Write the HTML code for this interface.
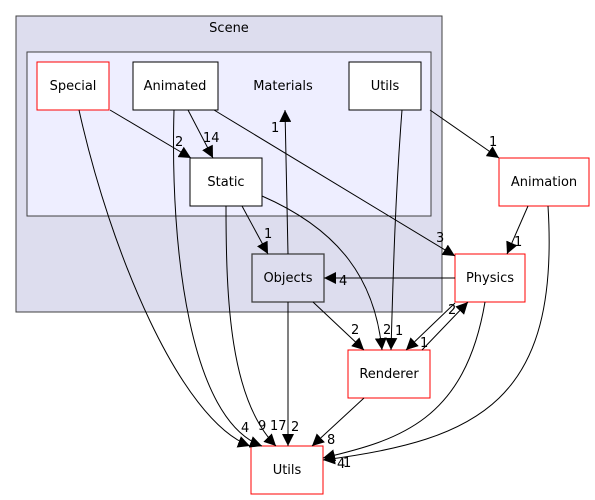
<!DOCTYPE html>
<html><head><meta charset="utf-8"><style>
html,body{margin:0;padding:0;background:#fff;width:595px;height:500px;overflow:hidden}
text{font-family:"DejaVu Sans","Liberation Sans",sans-serif;font-size:13px;fill:#000}
.l{font-size:13px}
</style></head><body>
<svg width="595" height="500" viewBox="0 0 595 500" xmlns="http://www.w3.org/2000/svg">
<defs><marker id="a" viewBox="0 0 10 10" refX="10" refY="5" markerWidth="12" markerHeight="12" markerUnits="userSpaceOnUse" orient="auto"><path d="M0,0 L10,5 L0,10 z" fill="#000"/></marker></defs>
<rect x="16" y="16" width="426" height="296" fill="#ddddee" stroke="#404040" stroke-width="1"/>
<text x="229" y="32" text-anchor="middle">Scene</text>
<rect x="27" y="52" width="404" height="164" fill="#eeeeff" stroke="#404040"/>
<rect x="37" y="62" width="72" height="48" fill="#fff" stroke="red"/>
<text x="73" y="90" text-anchor="middle">Special</text>
<rect x="133" y="62" width="85" height="48" fill="#fff" stroke="#000"/>
<text x="175" y="90" text-anchor="middle">Animated</text>
<text x="283" y="90" text-anchor="middle">Materials</text>
<rect x="349" y="62" width="72" height="48" fill="#fff" stroke="#000"/>
<text x="385" y="90" text-anchor="middle">Utils</text>
<rect x="190" y="158" width="72" height="48" fill="#fff" stroke="#000"/>
<text x="226" y="186" text-anchor="middle">Static</text>
<rect x="252" y="254" width="72" height="48" fill="#ddddee" stroke="#404040" stroke-width="1.3"/>
<text x="288" y="282" text-anchor="middle">Objects</text>
<rect x="455" y="254" width="70" height="48" fill="#fff" stroke="red"/>
<text x="490" y="282" text-anchor="middle">Physics</text>
<rect x="499" y="158" width="90" height="48" fill="#fff" stroke="red"/>
<text x="544" y="186" text-anchor="middle">Animation</text>
<rect x="348" y="350" width="82" height="48" fill="#fff" stroke="red"/>
<text x="389" y="378" text-anchor="middle">Renderer</text>
<rect x="251" y="446" width="72" height="48" fill="#fff" stroke="red"/>
<text x="287" y="474" text-anchor="middle">Utils</text>
<g fill="none" stroke="#000" stroke-width="1" marker-end="url(#a)">
<path d="M110,110 L191,158"/>
<path d="M188,110 L213,158"/>
<path d="M214,110 L455,256"/>
<path d="M288,254 L285,110"/>
<path d="M242,206 L268,254"/>
<path d="M262,196 C340,230 375,280 382,350"/>
<path d="M402,110 C395,200 393,280 391,350"/>
<path d="M430,110 L499,158"/>
<path d="M528,206 L507,254"/>
<path d="M455,278 L324,278"/>
<path d="M313,302 L364,350"/>
<path d="M455,303 L406,350"/>
<path d="M422,350 L468,302"/>
<path d="M288,302 L288,446"/>
<path d="M79,110 C110,250 180,420 250,446"/>
<path d="M174,110 C170,250 190,420 262,446"/>
<path d="M226,206 C226,300 230,400 276,446"/>
<path d="M364,398 L312,446"/>
<path d="M485,302 C465,420 400,440 323,458"/>
<path d="M548,206 C560,400 480,440 323,460"/>
</g>
<g class="l">
<text x="175" y="146">2</text><text x="203" y="142">14</text>
<text x="271" y="132">1</text><text x="264" y="238">1</text>
<text x="339" y="285">4</text><text x="436" y="242">3</text>
<text x="489" y="146">1</text><text x="514" y="246">1</text>
<text x="351" y="334">2</text><text x="383" y="334">2</text><text x="395" y="335">1</text>
<text x="448" y="314">2</text><text x="420" y="347">1</text>
<text x="241" y="432">4</text><text x="258" y="430">9</text><text x="270" y="430">17</text><text x="291" y="431">2</text>
<text x="327" y="444">8</text><text x="337" y="468">4</text><text x="343" y="467">1</text>
</g>
</svg>
</body></html>
